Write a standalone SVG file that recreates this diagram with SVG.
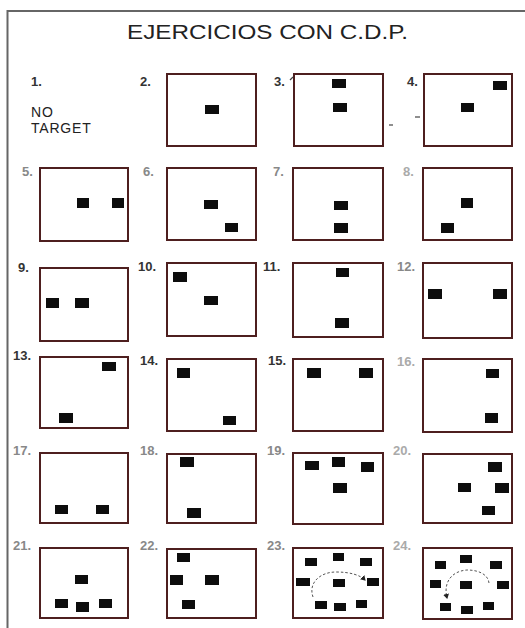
<svg xmlns="http://www.w3.org/2000/svg" width="525" height="628" viewBox="0 0 525 628">
<style>
.frame{fill:none;stroke:#666;stroke-width:2}
.box{fill:#fff;stroke:#4e1f1f;stroke-width:2}
.t{fill:#0d0d0d}
.num{font-family:"Liberation Sans",Arial,sans-serif;font-size:13px;font-weight:bold;fill:#333}
.fade{fill:#888}
.faint{fill:#aaa}
.lbl{font-family:"Liberation Sans",Arial,sans-serif;font-size:14px;fill:#222}
.title{font-family:"Liberation Sans",Arial,sans-serif;font-size:20px;fill:#222}
.arc{fill:none;stroke:#555;stroke-width:1;stroke-dasharray:2.5 2}
.mark{stroke:#444;stroke-width:1.2}
</style>
<defs>
<marker id="ah" markerWidth="6" markerHeight="6" refX="4" refY="3" orient="auto" markerUnits="userSpaceOnUse">
<path d="M0,0 L5,3 L0,6 Z" fill="#222"/>
</marker>
</defs>
<rect width="525" height="628" fill="#fff"/>
<path class="frame" d="M7.5,628 L7.5,11 L525,11"/>
<text class="title" x="127" y="39" textLength="281" lengthAdjust="spacingAndGlyphs">EJERCICIOS CON C.D.P.</text>

<g id="n1">
<text class="num" x="31" y="86">1.</text>
<text class="lbl" x="31" y="117" letter-spacing="0.8">NO</text>
<text class="lbl" x="31" y="133" letter-spacing="0.8">TARGET</text>
</g>
<g id="n2">
<text class="num" x="140" y="86">2.</text>
<rect class="box" x="167" y="74" width="89" height="72"/>
<rect class="t" x="205" y="105" width="14" height="9"/>
</g>
<g id="n3">
<text class="num" x="274" y="86">3.</text>
<rect class="box" x="294" y="74" width="89" height="72"/>
<rect class="t" x="332" y="79" width="14" height="9"/>
<rect class="t" x="333" y="103" width="14" height="9"/>
<line class="mark" x1="290" y1="80" x2="293" y2="77"/>
<line class="mark" x1="389" y1="125" x2="393" y2="125"/>
</g>
<g id="n4">
<text class="num" x="407" y="86">4.</text>
<rect class="box" x="424" y="74" width="88" height="72"/>
<rect class="t" x="493" y="81" width="14" height="9"/>
<rect class="t" x="461" y="103" width="13" height="9"/>
<line class="mark" x1="415" y1="117" x2="420" y2="117"/>
</g>

<g id="n5">
<text class="num fade" x="22" y="176">5.</text>
<rect class="box" x="40" y="168" width="88" height="73"/>
<rect class="t" x="77" y="198" width="12" height="10"/>
<rect class="t" x="112" y="198" width="12" height="10"/>
</g>
<g id="n6">
<text class="num fade" x="143" y="176">6.</text>
<rect class="box" x="167" y="168" width="89" height="72"/>
<rect class="t" x="204" y="200" width="14" height="9"/>
<rect class="t" x="225" y="223" width="13" height="9"/>
</g>
<g id="n7">
<text class="num fade" x="273" y="176">7.</text>
<rect class="box" x="293" y="168" width="90" height="72"/>
<rect class="t" x="334" y="201" width="14" height="9"/>
<rect class="t" x="334" y="223" width="14" height="10"/>
</g>
<g id="n8">
<text class="num faint" x="403" y="176">8.</text>
<rect class="box" x="423" y="168" width="89" height="72"/>
<rect class="t" x="461" y="198" width="12" height="10"/>
<rect class="t" x="441" y="223" width="13" height="10"/>
</g>

<g id="n9">
<text class="num" x="18" y="272">9.</text>
<rect class="box" x="40" y="268" width="88" height="73"/>
<rect class="t" x="46" y="298" width="13" height="10"/>
<rect class="t" x="75" y="298" width="14" height="10"/>
</g>
<g id="n10">
<text class="num" x="138" y="271">10.</text>
<rect class="box" x="167" y="263" width="89" height="73"/>
<rect class="t" x="173" y="272" width="14" height="10"/>
<rect class="t" x="204" y="296" width="14" height="9"/>
</g>
<g id="n11">
<text class="num" x="263" y="271">11.</text>
<rect class="box" x="293" y="263" width="90" height="74"/>
<rect class="t" x="336" y="268" width="13" height="9"/>
<rect class="t" x="335" y="318" width="14" height="10"/>
</g>
<g id="n12">
<text class="num fade" x="397" y="271">12.</text>
<rect class="box" x="423" y="263" width="89" height="75"/>
<rect class="t" x="428" y="289" width="14" height="10"/>
<rect class="t" x="493" y="289" width="14" height="10"/>
</g>

<g id="n13">
<text class="num" x="13" y="360">13.</text>
<rect class="box" x="40" y="357" width="88" height="71"/>
<rect class="t" x="102" y="362" width="14" height="9"/>
<rect class="t" x="59" y="413" width="14" height="10"/>
</g>
<g id="n14">
<text class="num" x="140" y="365">14.</text>
<rect class="box" x="167" y="359" width="89" height="72"/>
<rect class="t" x="177" y="368" width="13" height="10"/>
<rect class="t" x="223" y="416" width="13" height="9"/>
</g>
<g id="n15">
<text class="num" x="268" y="365">15.</text>
<rect class="box" x="293" y="359" width="90" height="72"/>
<rect class="t" x="307" y="368" width="14" height="10"/>
<rect class="t" x="359" y="368" width="14" height="10"/>
</g>
<g id="n16">
<text class="num faint" x="397" y="366">16.</text>
<rect class="box" x="423" y="359" width="89" height="73"/>
<rect class="t" x="486" y="369" width="13" height="9"/>
<rect class="t" x="485" y="413" width="13" height="10"/>
</g>

<g id="n17">
<text class="num fade" x="13" y="455">17.</text>
<rect class="box" x="40" y="453" width="88" height="70"/>
<rect class="t" x="55" y="505" width="13" height="9"/>
<rect class="t" x="96" y="505" width="13" height="9"/>
</g>
<g id="n18">
<text class="num fade" x="140" y="455">18.</text>
<rect class="box" x="167" y="454" width="89" height="69"/>
<rect class="t" x="180" y="457" width="14" height="10"/>
<rect class="t" x="187" y="508" width="14" height="10"/>
</g>
<g id="n19">
<text class="num fade" x="267" y="455">19.</text>
<rect class="box" x="293" y="453" width="90" height="71"/>
<rect class="t" x="305" y="461" width="14" height="9"/>
<rect class="t" x="332" y="457" width="13" height="10"/>
<rect class="t" x="361" y="462" width="13" height="10"/>
<rect class="t" x="333" y="483" width="14" height="10"/>
</g>
<g id="n20">
<text class="num faint" x="393" y="455">20.</text>
<rect class="box" x="423" y="454" width="89" height="69"/>
<rect class="t" x="488" y="462" width="14" height="10"/>
<rect class="t" x="458" y="483" width="13" height="9"/>
<rect class="t" x="495" y="483" width="14" height="10"/>
<rect class="t" x="482" y="506" width="13" height="9"/>
</g>

<g id="n21">
<text class="num fade" x="13" y="550">21.</text>
<rect class="box" x="40" y="548" width="88" height="70"/>
<rect class="t" x="75" y="575" width="13" height="9"/>
<rect class="t" x="55" y="599" width="13" height="9"/>
<rect class="t" x="76" y="602" width="13" height="10"/>
<rect class="t" x="99" y="599" width="13" height="9"/>
</g>
<g id="n22">
<text class="num fade" x="140" y="550">22.</text>
<rect class="box" x="167" y="549" width="89" height="69"/>
<rect class="t" x="177" y="553" width="13" height="9"/>
<rect class="t" x="170" y="575" width="13" height="10"/>
<rect class="t" x="205" y="575" width="14" height="10"/>
<rect class="t" x="182" y="600" width="13" height="9"/>
</g>
<g id="n23">
<text class="num fade" x="267" y="550">23.</text>
<rect class="box" x="293" y="548" width="90" height="70"/>
<rect class="t" x="305" y="558" width="12" height="8"/>
<rect class="t" x="333" y="553" width="11" height="8"/>
<rect class="t" x="360" y="558" width="12" height="8"/>
<rect class="t" x="296" y="578" width="14" height="8"/>
<rect class="t" x="333" y="579" width="12" height="8"/>
<rect class="t" x="367" y="578" width="12" height="8"/>
<rect class="t" x="315" y="601" width="12" height="8"/>
<rect class="t" x="334" y="603" width="12" height="8"/>
<rect class="t" x="356" y="600" width="11" height="8"/>
</g>
<g id="n24">
<text class="num faint" x="393" y="550">24.</text>
<rect class="box" x="423" y="548" width="89" height="71"/>
<rect class="t" x="435" y="561" width="11" height="8"/>
<rect class="t" x="460" y="555" width="12" height="8"/>
<rect class="t" x="490" y="561" width="12" height="8"/>
<rect class="t" x="430" y="580" width="11" height="8"/>
<rect class="t" x="460" y="581" width="12" height="8"/>
<rect class="t" x="497" y="581" width="12" height="8"/>
<rect class="t" x="440" y="603" width="11" height="8"/>
<rect class="t" x="461" y="606" width="12" height="8"/>
<rect class="t" x="483" y="602" width="11" height="8"/>
</g>

<g id="connectors">
<path class="arc" d="M313,597 C308,583 320,572 336,572 C350,572 360,575 365,580" marker-end="url(#ah)"/>
<path class="arc" d="M489,583 C488,574 478,570 467,570 C452,571 443,582 447,598" marker-end="url(#ah)"/>
</g>
</svg>
